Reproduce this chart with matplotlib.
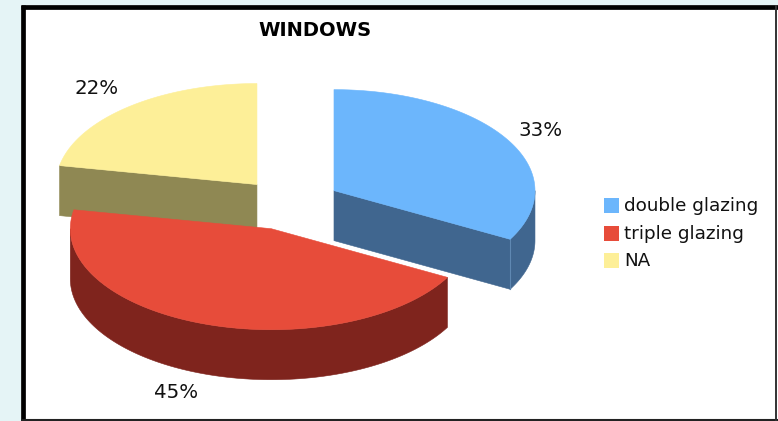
import numpy as np
import matplotlib
matplotlib.use("Agg")
import matplotlib.pyplot as plt
from matplotlib.patches import Polygon, Rectangle

labels = ["double glazing", "triple glazing", "NA"]
shares = [33, 45, 22]
explode = [0.26, 0.26, 0.25]

top_colors = ["#6CB6FC", "#E74C3A", "#FDEF98"]
side_colors = ["#40668F", "#7F241D", "#8F8853"]

# pie geometry in pixels
cx, cy = 289, 204
rx, ry = 201, 101
depth = 50

fig = plt.figure(figsize=(7.78, 4.21), dpi=100, facecolor="#E5F4F6")
ax = fig.add_axes([0, 0, 1, 1])
ax.set_xlim(0, 778)
ax.set_ylim(421, 0)
ax.axis("off")

# chart area with its heavy border
ax.add_patch(Rectangle((21, 5), 757, 416, fc="white", ec="none", zorder=0))
ax.plot([22.6, 22.6], [5, 421], color="black", lw=3.4, solid_capstyle="butt", zorder=1)
ax.plot([21, 778], [6.6, 6.6], color="black", lw=3.4, solid_capstyle="butt", zorder=1)
ax.plot([21, 778], [420, 420], color="#222222", lw=1.5, solid_capstyle="butt", zorder=1)
ax.plot([776, 776], [5, 421], color="#333333", lw=1.4, solid_capstyle="butt", zorder=1)


def arc(x0, y0, t0, t1, n=120):
    # t is measured clockwise from 12 o'clock
    t = np.linspace(t0, t1, n)
    return np.column_stack([x0 + rx * np.sin(t), y0 - ry * np.cos(t)])


def poly(pts, color, z):
    ax.add_patch(Polygon(pts, closed=True, fc=color, ec=color, lw=0.4, zorder=z))


edges = np.cumsum([0] + shares) / sum(shares) * 2 * np.pi
centers = []
for i in range(3):
    mid = (edges[i] + edges[i + 1]) / 2
    off = explode[i] * rx
    centers.append((cx + off * np.sin(mid), cy - off * ry / rx * np.cos(mid)))

# back to front: NA, double glazing, triple glazing
for i, z in [(2, 2), (0, 3), (1, 4)]:
    x0, y0 = centers[i]
    t0, t1 = edges[i], edges[i + 1]
    rim = arc(x0, y0, t0, t1)
    drop = np.array([0, depth])

    # cut faces that look towards the viewer
    if i == 0:
        poly([(x0, y0), rim[-1], rim[-1] + drop, (x0, y0 + depth)], side_colors[i], z)
    if i == 2:
        poly([(x0, y0), rim[0], rim[0] + drop, (x0, y0 + depth)], side_colors[i], z)

    # outer wall, only where the rim faces front
    a0 = max(t0, np.pi / 2)
    a1 = min(t1, 3 * np.pi / 2)
    if a1 > a0:
        wall = arc(x0, y0, a0, a1)
        poly(np.vstack([wall, (wall + drop)[::-1]]), side_colors[i], z)

    poly(np.vstack([[(x0, y0)], rim]), top_colors[i], z + 0.5)

# seam between the wall and the cut face of the blue slice
x0, y0 = centers[0]
seam = arc(x0, y0, edges[1], edges[1], n=1)[0]
ax.plot([seam[0], seam[0]], [seam[1], seam[1] + depth], color="#5F88B2", lw=0.8, zorder=3.2)

text_color = "#111111"
ax.text(315, 31, "WINDOWS", ha="center", va="center", fontsize=14,
        fontweight="bold", family="DejaVu Sans", color="black", zorder=6)

# percentage labels
label_pos = [(541, 130), (176, 393), (97, 88)]
for (x, y), s in zip(label_pos, shares):
    ax.text(x, y, f"{s}%", ha="center", va="center", fontsize=14.2,
            family="DejaVu Sans", color=text_color, zorder=6)

# legend
legend_y = [206, 234, 261]
for name, color, y in zip(labels, top_colors, legend_y):
    ax.add_patch(Rectangle((604, y - 8), 15, 15, fc=color, ec="none", zorder=6))
    ax.text(624, y, name, ha="left", va="center", fontsize=13.2,
            family="DejaVu Sans", color=text_color, zorder=6)

fig.savefig("out.png", dpi=100, facecolor=fig.get_facecolor())
